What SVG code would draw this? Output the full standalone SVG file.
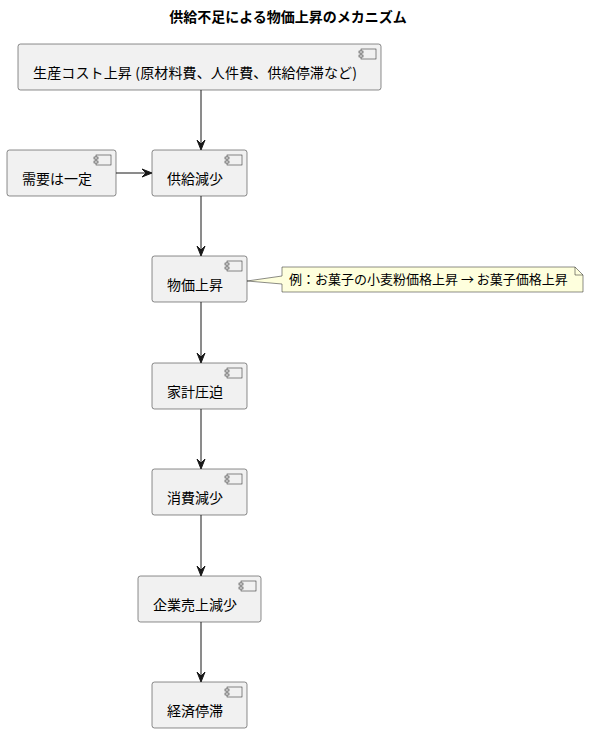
<svg xmlns="http://www.w3.org/2000/svg" width="589" height="733" viewBox="0 0 589 733">
<style>
.n rect.b{fill:#F1F1F1;stroke:#181818;stroke-width:0.5}
.ic{fill:#F1F1F1;stroke:#181818;stroke-width:0.5}
text{font-family:"Noto Sans CJK JP","Noto Sans",sans-serif;fill:#000}
.t{font-size:14px}
.e{stroke:#181818;stroke-width:1;fill:none}
.h{fill:#181818;stroke:#181818;stroke-width:1}
</style>
<defs>
<g id="icon">
<rect class="ic" x="0" y="0" width="15" height="10"/>
<rect class="ic" x="-2" y="2" width="4" height="2"/>
<rect class="ic" x="-2" y="6" width="4" height="2"/>
</g>
</defs>
<rect width="589" height="733" fill="#FFFFFF"/>
<text x="288" y="22" text-anchor="middle" font-size="14" font-weight="bold">供給不足による物価上昇のメカニズム</text>

<g id="connectors">
<line class="e" x1="201" y1="90" x2="201" y2="148"/>
<polygon class="h" points="197,140 201,150 205,140 201,144"/>
<line class="e" x1="116" y1="173" x2="150" y2="173"/>
<polygon class="h" points="142,169 152,173 142,177 146,173"/>
<line class="e" x1="201" y1="196" x2="201" y2="254"/>
<polygon class="h" points="197,246 201,256 205,246 201,250"/>
<line class="e" x1="201" y1="302" x2="201" y2="361"/>
<polygon class="h" points="197,353 201,363 205,353 201,357"/>
<line class="e" x1="201" y1="409" x2="201" y2="467"/>
<polygon class="h" points="197,459 201,469 205,459 201,463"/>
<line class="e" x1="201" y1="515" x2="201" y2="574"/>
<polygon class="h" points="197,566 201,576 205,566 201,570"/>
<line class="e" x1="201" y1="622" x2="201" y2="680"/>
<polygon class="h" points="197,672 201,682 205,672 201,676"/>
</g>

<g id="n1" class="n">
<rect class="b" x="18" y="44" width="363" height="46" rx="2.5"/>
<use href="#icon" x="361" y="49"/>
<text class="t" x="33" y="78" textLength="324" lengthAdjust="spacing">生産コスト上昇 (原材料費、人件費、供給停滞など)</text>
</g>
<g id="n2" class="n">
<rect class="b" x="7" y="150" width="109" height="46" rx="2.5"/>
<use href="#icon" x="96" y="155"/>
<text class="t" x="22" y="184">需要は一定</text>
</g>
<g id="n3" class="n">
<rect class="b" x="152" y="150" width="95" height="46" rx="2.5"/>
<use href="#icon" x="227" y="155"/>
<text class="t" x="167" y="184">供給減少</text>
</g>
<g id="n4" class="n">
<rect class="b" x="152" y="256" width="95" height="46" rx="2.5"/>
<use href="#icon" x="227" y="261"/>
<text class="t" x="167" y="290">物価上昇</text>
</g>
<g id="note">
<polygon points="282,267 575,267 583,275 583,292 282,292 282,284 247,281 282,276" fill="#FEFFDD" stroke="#181818" stroke-width="0.5"/>
<polyline points="575,267 575,275 583,275" fill="none" stroke="#181818" stroke-width="0.5"/>
<text x="289" y="284" font-size="13">例：お菓子の小麦粉価格上昇 → お菓子価格上昇</text>
</g>
<g id="n5" class="n">
<rect class="b" x="152" y="363" width="95" height="46" rx="2.5"/>
<use href="#icon" x="227" y="368"/>
<text class="t" x="167" y="397">家計圧迫</text>
</g>
<g id="n6" class="n">
<rect class="b" x="152" y="469" width="95" height="46" rx="2.5"/>
<use href="#icon" x="227" y="474"/>
<text class="t" x="167" y="503">消費減少</text>
</g>
<g id="n7" class="n">
<rect class="b" x="138" y="576" width="123" height="46" rx="2.5"/>
<use href="#icon" x="241" y="581"/>
<text class="t" x="153" y="610">企業売上減少</text>
</g>
<g id="n8" class="n">
<rect class="b" x="152" y="682" width="95" height="46" rx="2.5"/>
<use href="#icon" x="227" y="687"/>
<text class="t" x="167" y="716">経済停滞</text>
</g>
</svg>
